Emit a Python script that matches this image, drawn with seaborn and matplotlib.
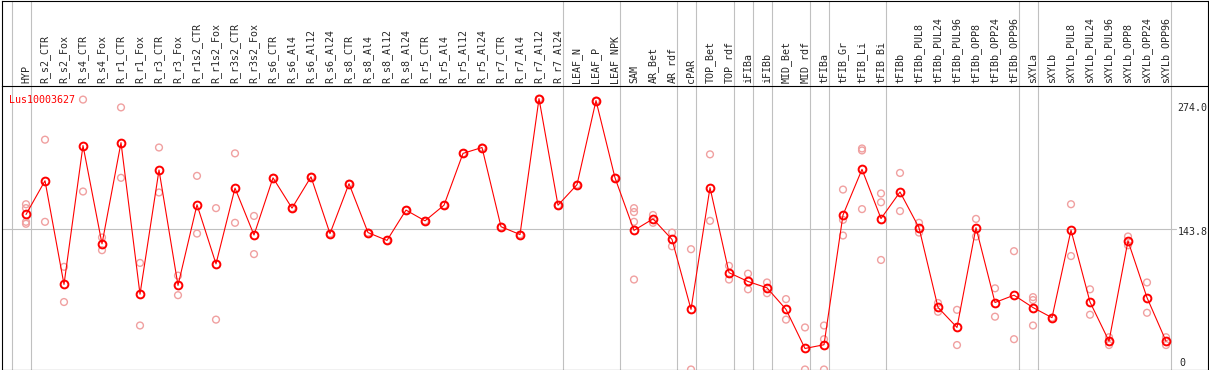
import pandas as pd
import matplotlib
matplotlib.use("Agg")
import matplotlib.pyplot as plt
import seaborn as sns

# sample names, left to right
categories = [
    "HYP", "R_s2_CTR", "R_s2_Fox", "R_s4_CTR", "R_s4_Fox", "R_r1_CTR", "R_r1_Fox",
    "R_r3_CTR", "R_r3_Fox", "R_r1s2_CTR", "R_r1s2_Fox", "R_r3s2_CTR", "R_r3s2_Fox",
    "R_s6_CTR", "R_s6_Al4", "R_s6_Al12", "R_s6_Al24", "R_s8_CTR", "R_s8_Al4",
    "R_s8_Al12", "R_s8_Al24", "R_r5_CTR", "R_r5_Al4", "R_r5_Al12", "R_r5_Al24",
    "R_r7_CTR", "R_r7_Al4", "R_r7_Al12", "R_r7_Al24", "LEAF_N", "LEAF_P", "LEAF_NPK",
    "SAM", "AR_Bet", "AR_rdf", "cPAR", "TOP_Bet", "TOP_rdf", "iFIBa", "iFIBb",
    "MID_Bet", "MID_rdf", "tFIBa", "tFIB_Gr", "tFIB_Li", "tFIB_Bi", "tFIBb",
    "tFIBb_PUL8", "tFIBb_PUL24", "tFIBb_PUL96", "tFIBb_OPP8", "tFIBb_OPP24", "tFIBb_OPP96",
    "sXYLa", "sXYLb", "sXYLb_PUL8", "sXYLb_PUL24", "sXYLb_PUL96",
    "sXYLb_OPP8", "sXYLb_OPP24", "sXYLb_OPP96",
]

# replicate expression values per sample
replicates = [
    [169, 165, 151, 149], [235, 151], [105, 69], [276, 182], [135, 122], [268, 196], [109, 45],
    [227, 181], [96, 76], [198, 139], [165, 51], [221, 150], [157, 118],
    [196], [165], [197], [139], [190], [140],
    [132], [163], [152], [168], [221], [227],
    [146], [138], [277], [168], [189], [275], [196],
    [165, 161, 151, 92], [158, 150], [140, 126], [123, 0], [220, 152], [106, 92], [98, 82], [89, 78],
    [72, 51], [43, 0], [45, 31, 0], [184, 153, 137], [226, 224, 164], [180, 171, 112], [201, 162],
    [150, 140], [68, 59], [61, 25], [154, 136], [83, 54], [121, 31],
    [74, 71, 45], [53], [169, 116], [82, 56], [33, 25],
    [136, 127], [89, 58], [33, 25],
]

# a grey separator follows each of these samples
group_ends = ["HYP", "R_r7_Al24", "LEAF_NPK", "AR_rdf", "cPAR", "TOP_rdf", "iFIBa",
              "iFIBb", "MID_rdf", "tFIBa", "tFIB_Bi", "tFIBb_OPP96", "sXYLa", "sXYLb_OPP96"]

gene = "Lus10003627"
y_max = 274.0
y_mid = 143.8

rows = [(i, c, v) for i, c in enumerate(categories) for v in replicates[i]]
df = pd.DataFrame(rows, columns=["pos", "sample", "value"])

sns.set_style("white")
plt.rcParams["font.family"] = ["DejaVu Sans Mono"]
fs = 7.2
grey = "#c0c0c0"

W, H = 1209, 370
fig = plt.figure(figsize=(W / 100, H / 100), dpi=100)
ax = fig.add_axes([1.5 / W, 0.5 / H, 1206 / W, 284 / H])
hd = fig.add_axes([1.5 / W, 284.5 / H, 1206 / W, 85 / H])
hd.patch.set_alpha(0)

x0, x1 = (1.5 - 26) / 19, (1207.5 - 26) / 19
for a in (ax, hd):
    a.set_xlim(x0, x1)
    for s in a.spines.values():
        s.set_color("black")
        s.set_linewidth(0.8)
    for g in [-1] + [categories.index(n) for n in group_ends]:
        a.axvline(g + 0.263, color=grey, lw=0.8, zorder=1)
hd.spines["bottom"].set_visible(False)
hd.set_xticks([])
hd.set_yticks([])

ax.set_ylim(0, 290.4)
ax.axhline(y_mid, xmin=0, xmax=0.974, color=grey, lw=0.8, zorder=1)

sns.scatterplot(data=df, x="pos", y="value", marker="o", s=24, facecolor="none",
                edgecolor="#f0a0a0", linewidth=1.0, ax=ax, zorder=3)
sns.lineplot(data=df, x="pos", y="value", estimator="mean", errorbar=None,
             color="red", lw=0.8, marker="o", markersize=5.6, markerfacecolor="none",
             markeredgecolor="red", markeredgewidth=1.4, ax=ax, zorder=4)

ax.set_xlabel("")
ax.set_ylabel("")
ax.set_yticks([])
ax.xaxis.tick_top()
ax.set_xticks(range(len(categories)))
ax.set_xticklabels(categories, rotation=90, fontsize=fs)
ax.tick_params(axis="x", length=0, pad=2)

ax.text((9 - 26) / 19, 276, gene, color="red", fontsize=fs, ha="left", va="center")
ax.annotate(f"{y_max:.1f}", xy=(1, y_max), xycoords=("axes fraction", "data"),
            xytext=(-22, -5), textcoords="offset points", fontsize=fs, va="center")
ax.annotate(f"{y_mid:.1f}", xy=(1, y_mid), xycoords=("axes fraction", "data"),
            xytext=(-21.5, -2.4), textcoords="offset points", fontsize=fs, va="center")
ax.annotate("0", xy=(1, 0), xycoords=("axes fraction", "data"),
            xytext=(-20.5, 4.5), textcoords="offset points", fontsize=fs, va="center")

fig.savefig("out.png", dpi=100, facecolor="white")
